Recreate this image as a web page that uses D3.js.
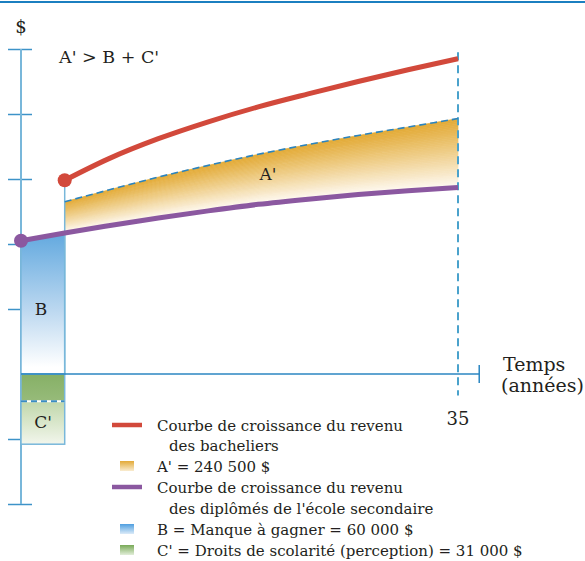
<!DOCTYPE html>
<html><head><meta charset="utf-8">
<script src="https://cdn.jsdelivr.net/npm/d3@7"></script>
<style>body{margin:0;background:#fff} svg{display:block} text{font-family:"DejaVu Serif",serif;fill:#231f20}</style>
</head><body><svg id="c" width="585" height="561"></svg>
<script>
// ---- data (income in arbitrary tick units, time in years) ----
const yearsBach = [3.5, 7, 11, 15, 19, 23, 27, 31, 35];
const incomeBach = [2.98, 3.31, 3.62, 3.88, 4.11, 4.31, 4.50, 4.68, 4.85];
const netBach = [2.65, 2.83, 3.03, 3.21, 3.38, 3.53, 3.67, 3.80, 3.93];
const yearsSec = [0, 3.5, 7, 11, 15, 19, 23, 27, 31, 35];
const incomeSec = [2.05, 2.17, 2.28, 2.40, 2.51, 2.61, 2.69, 2.76, 2.82, 2.87];
const studyYears = [0, 3.5];
const tuitionLevels = [0, -0.42, -1.08];
const yTicks = [-2, -1, 1, 2, 3, 4, 5];
const xTickLabels = [35];
const legendLines = [
  {type: "line", color: "red", text: "Courbe de croissance du revenu"},
  {type: "none", text: "des bacheliers"},
  {type: "box", color: "orange", text: "A' = 240 500 $"},
  {type: "line", color: "purple", text: "Courbe de croissance du revenu"},
  {type: "none", text: "des diplômés de l'école secondaire"},
  {type: "box", color: "blue", text: "B = Manque à gagner = 60 000 $"},
  {type: "box", color: "green", text: "C' = Droits de scolarité (perception) = 31 000 $"}
];

const svg = d3.select("#c");
const x = d3.scaleLinear().domain([0, 35]).range([21, 458]);
const y = d3.scaleLinear().domain([0, 1]).range([374, 309]);
const CURVE = d3.curveMonotoneX;

const RED = "#d2493b", PURPLE = "#8b58a0", AXIS = "#2b86c2", LIGHT = "#78b7da";

const defs = svg.append("defs");
function grad(id, stops) {
  const g = defs.append("linearGradient").attr("id", id).attr("x1", 0).attr("y1", 0).attr("x2", 0).attr("y2", 1);
  stops.forEach(s => g.append("stop").attr("offset", s[0]).attr("stop-color", s[1]));
}
grad("gB", [[0, "#62a9df"], [0.55, "#bcd8f0"], [0.95, "#ffffff"]]);
grad("gC1", [[0, "#86b066"], [1, "#97bb7a"]]);
grad("gC2", [[0, "#c0d7aa"], [1, "#f2f6ec"]]);
grad("Lorange", [[0, "#e3aa38"], [1, "#f9ecd0"]]);
grad("Lblue", [[0, "#4f9fe0"], [1, "#dcebf8"]]);
grad("Lgreen", [[0, "#78a957"], [1, "#e2eed9"]]);

// top rule
svg.append("line").attr("x1", 0).attr("x2", 585).attr("y1", 2).attr("y2", 2)
  .attr("stroke", "#1b7fc0").attr("stroke-width", 2);

// y ticks (both sides)
const axL = d3.axisLeft(y).tickValues(yTicks).tickSize(13).tickFormat("");
const axR = d3.axisRight(y).tickValues(yTicks).tickSize(11).tickFormat("");
[axL, axR].forEach(a => {
  const g = svg.append("g").attr("transform", `translate(${x(0)},0)`).call(a);
  g.select(".domain").remove();
  g.selectAll("line").attr("stroke", "#3d93c8").attr("stroke-width", 1.5);
});
svg.append("line").attr("x1", x(0)).attr("x2", x(0)).attr("y1", y(5)).attr("y2", y(-2))
  .attr("stroke", LIGHT).attr("stroke-width", 2);

// A' area as gradient bands between net curve and secondary curve
const secB = incomeSec.slice(1);
const N = 40;
const colA = d3.interpolateRgb("#e3ab38", "#fffcf7");
for (let i = 0; i < N; i++) {
  const f0 = i / N, f1 = Math.min(1, (i + 1) / N + 0.005);
  const area = d3.area().curve(CURVE)
    .x((d, j) => x(yearsBach[j]))
    .y0((d, j) => y(netBach[j] + (secB[j] - netBach[j]) * f0))
    .y1((d, j) => y(netBach[j] + (secB[j] - netBach[j]) * f1));
  const c = colA(Math.pow(f0, 1.1));
  svg.append("path").datum(yearsBach).attr("d", area).attr("fill", c)
    .attr("stroke", c).attr("stroke-width", 0.6);
}

// B area
const areaB = d3.area().x(d => x(d)).y0(y(0)).y1((d, j) => y(incomeSec[j]));
svg.append("path").datum(studyYears).attr("d", areaB).attr("fill", "url(#gB)")
  .attr("stroke", LIGHT).attr("stroke-width", 1.5);

// C' rects
svg.append("rect").attr("x", x(0)).attr("width", x(3.5) - x(0))
  .attr("y", y(tuitionLevels[0])).attr("height", y(tuitionLevels[1]) - y(tuitionLevels[0]))
  .attr("fill", "url(#gC1)");
svg.append("rect").attr("x", x(0)).attr("width", x(3.5) - x(0))
  .attr("y", y(tuitionLevels[1])).attr("height", y(tuitionLevels[2]) - y(tuitionLevels[1]))
  .attr("fill", "url(#gC2)");
svg.append("rect").attr("x", x(0)).attr("width", x(3.5) - x(0))
  .attr("y", y(tuitionLevels[0])).attr("height", y(tuitionLevels[2]) - y(tuitionLevels[0]))
  .attr("fill", "none").attr("stroke", LIGHT).attr("stroke-width", 1.5);
svg.append("line").attr("x1", x(0)).attr("x2", x(3.5)).attr("y1", y(tuitionLevels[1])).attr("y2", y(tuitionLevels[1]))
  .attr("stroke", "#fff").attr("stroke-width", 2);
svg.append("line").attr("x1", x(0)).attr("x2", x(3.5)).attr("y1", y(tuitionLevels[1])).attr("y2", y(tuitionLevels[1]))
  .attr("stroke", "#3a8cc2").attr("stroke-width", 2).attr("stroke-dasharray", "6,4");

// vertical from red dot down to axis at end of studies
svg.append("line").attr("x1", x(3.5)).attr("x2", x(3.5)).attr("y1", y(incomeBach[0])).attr("y2", y(0))
  .attr("stroke", LIGHT).attr("stroke-width", 1.5);

// x axis
svg.append("line").attr("x1", x(0)).attr("x2", x(36.7)).attr("y1", y(0)).attr("y2", y(0))
  .attr("stroke", AXIS).attr("stroke-width", 1.5);
svg.append("line").attr("x1", x(36.7)).attr("x2", x(36.7)).attr("y1", y(0) - 9).attr("y2", y(0) + 9)
  .attr("stroke", AXIS).attr("stroke-width", 1.5);

// dashed vertical at 35
svg.append("line").attr("x1", x(35)).attr("x2", x(35)).attr("y1", y(4.95)).attr("y2", y(-0.33))
  .attr("stroke", "#4aa2cc").attr("stroke-width", 2).attr("stroke-dasharray", "8,5");

// net (A' top) dashed line
const lineNet = d3.line().curve(CURVE).x((d, j) => x(yearsBach[j])).y(d => y(d));
svg.append("path").datum(netBach).attr("d", lineNet).attr("fill", "none")
  .attr("stroke", "#2a84c0").attr("stroke-width", 1.6).attr("stroke-dasharray", "7,4");

// income curves
const lineB = d3.line().curve(CURVE).x((d, j) => x(yearsBach[j])).y(d => y(d));
svg.append("path").datum(incomeBach).attr("d", lineB).attr("fill", "none")
  .attr("stroke", RED).attr("stroke-width", 5);
const lineS = d3.line().curve(CURVE).x((d, j) => x(yearsSec[j])).y(d => y(d));
svg.append("path").datum(incomeSec).attr("d", lineS).attr("fill", "none")
  .attr("stroke", PURPLE).attr("stroke-width", 5);
svg.append("circle").attr("cx", x(yearsBach[0])).attr("cy", y(incomeBach[0])).attr("r", 7).attr("fill", RED);
svg.append("circle").attr("cx", x(yearsSec[0])).attr("cy", y(incomeSec[0])).attr("r", 7).attr("fill", PURPLE);

// texts
function t(str, px, py, size, anchor) {
  return svg.append("text").attr("x", px).attr("y", py).attr("font-size", size)
    .attr("text-anchor", anchor || "start").text(str);
}
t("$", 21, 33, 18, "middle");
t("A' > B + C'", 59, 63, 17.5);
t("A'", 268, 180, 17, "middle");
t("B", 41, 315, 17, "middle");
t("C'", 43, 428, 17, "middle");
xTickLabels.forEach(v => t(String(v), x(v), 425, 18, "middle"));
t("Temps", 503, 371, 19);
t("(années)", 501, 392, 19);

// legend
const legY = [431, 451, 472, 493, 514, 535, 556];
legendLines.forEach((d, i) => {
  const by = legY[i];
  if (d.type === "line") {
    svg.append("line").attr("x1", 112).attr("x2", 142).attr("y1", by - 6).attr("y2", by - 6)
      .attr("stroke", d.color === "red" ? RED : PURPLE).attr("stroke-width", 4.5);
  } else if (d.type === "box") {
    const id = d.color === "orange" ? "Lorange" : d.color === "blue" ? "Lblue" : "Lgreen";
    svg.append("rect").attr("x", 120).attr("y", by - 11).attr("width", 14).attr("height", 10)
      .attr("fill", `url(#${id})`);
  }
  t(d.text, d.type === "none" ? 169 : 157, by, 15);
});
</script></body></html>
